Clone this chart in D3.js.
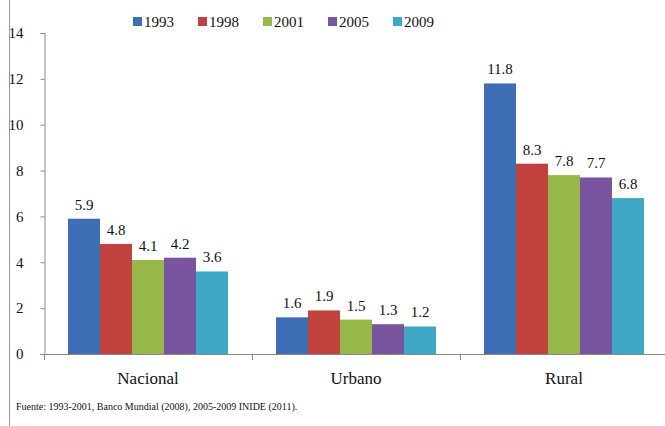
<!DOCTYPE html>
<html>
<head>
<meta charset="utf-8">
<script src="https://cdnjs.cloudflare.com/ajax/libs/d3/7.8.5/d3.min.js"></script>
<style>
  body { margin: 0; background: #fff; }
</style>
</head>
<body>
<div id="chart"></div>
<script>
var categories = ["Nacional", "Urbano", "Rural"];
var years = ["1993", "1998", "2001", "2005", "2009"];
var values1993 = [5.9, 1.6, 11.8];
var values1998 = [4.8, 1.9, 8.3];
var values2001 = [4.1, 1.5, 7.8];
var values2005 = [4.2, 1.3, 7.7];
var values2009 = [3.6, 1.2, 6.8];
var yTicks = [0, 2, 4, 6, 8, 10, 12, 14];
var colors = ["#3e6eb4", "#bf423f", "#95b848", "#7a559f", "#3ea7c5"];
var series = [values1993, values1998, values2001, values2005, values2009];
var FONT = "Liberation Serif";

var svg = d3.select("#chart").append("svg")
    .attr("width", 665)
    .attr("height", 426)
    .attr("font-family", FONT);

// left border line
svg.append("line")
    .attr("x1", 9.5).attr("x2", 9.5)
    .attr("y1", 0).attr("y2", 426)
    .attr("stroke", "#999");

var yscale = d3.scaleLinear().domain([0, 14]).range([354, 33]);
var xscale = d3.scaleBand().domain(categories).range([44, 668]);
var inner = d3.scaleBand().domain(years).range([0, 160]);
var offset = (xscale.bandwidth() - 160) / 2;

// y axis
var yAxis = d3.axisLeft(yscale).tickValues(yTicks).tickSize(4).tickPadding(17);
var gy = svg.append("g").attr("transform", "translate(44.5,0)").call(yAxis)
    .attr("font-family", FONT)
    .attr("font-size", 15);
gy.select(".domain").attr("stroke", "#888").attr("d", "M-4,33.5H0.5V354.5");
gy.selectAll(".tick line").attr("stroke", "#888");
gy.selectAll(".tick text").attr("fill", "#111");

// x axis baseline and category separators
svg.append("line")
    .attr("x1", 40).attr("x2", 665)
    .attr("y1", 354.5).attr("y2", 354.5)
    .attr("stroke", "#888");
svg.selectAll(".sep").data(categories).enter().append("line")
    .attr("x1", function (d) { return xscale(d) + 0.5; })
    .attr("x2", function (d) { return xscale(d) + 0.5; })
    .attr("y1", 354).attr("y2", 360)
    .attr("stroke", "#888");

// bars
series.forEach(function (vals, s) {
    var g = svg.append("g");
    g.selectAll("rect").data(vals).enter().append("rect")
        .attr("x", function (d, i) { return xscale(categories[i]) + offset + inner(years[s]); })
        .attr("y", function (d) { return yscale(d); })
        .attr("width", inner.bandwidth())
        .attr("height", function (d) { return yscale(0) - yscale(d); })
        .attr("fill", colors[s]);
    g.selectAll("text").data(vals).enter().append("text")
        .attr("x", function (d, i) { return xscale(categories[i]) + offset + inner(years[s]) + inner.bandwidth() / 2; })
        .attr("y", function (d) { return yscale(d) - 9; })
        .attr("text-anchor", "middle")
        .attr("font-family", FONT)
        .attr("font-size", 15)
        .attr("fill", "#111")
        .text(function (d) { return d.toFixed(1); });
});

// category labels
svg.selectAll(".cat").data(categories).enter().append("text")
    .attr("x", function (d) { return xscale(d) + xscale.bandwidth() / 2; })
    .attr("y", 384)
    .attr("text-anchor", "middle")
    .attr("font-family", FONT)
    .attr("font-size", 17)
    .attr("fill", "#111")
    .text(function (d) { return d; });

// legend
var legend = svg.append("g");
years.forEach(function (y, i) {
    var lx = 133 + i * 65;
    legend.append("rect")
        .attr("x", lx).attr("y", 17)
        .attr("width", 9).attr("height", 9)
        .attr("fill", colors[i]);
    legend.append("text")
        .attr("x", lx + 11).attr("y", 27)
        .attr("font-family", FONT)
        .attr("font-size", 15)
        .attr("fill", "#111")
        .text(y);
});

// source
svg.append("text")
    .attr("x", 16).attr("y", 410)
    .attr("font-family", FONT)
    .attr("font-size", 10)
    .attr("fill", "#111")
    .text("Fuente: 1993-2001, Banco Mundial (2008), 2005-2009 INIDE (2011).");
</script>
</body>
</html>
